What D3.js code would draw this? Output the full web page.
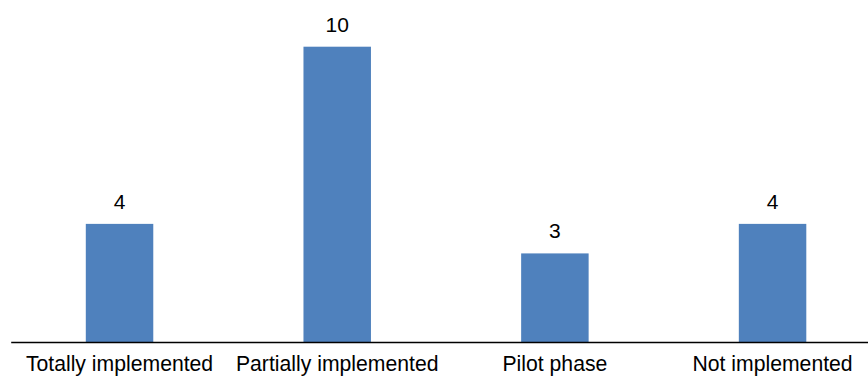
<!DOCTYPE html>
<html>
<head>
<meta charset="utf-8">
<script src="https://cdn.jsdelivr.net/npm/d3@7"></script>
<style>
  html, body { margin: 0; padding: 0; background: #fff; }
  svg { display: block; font-family: "Liberation Sans", Arial, sans-serif; }
</style>
</head>
<body>
<svg id="chart" width="868" height="376"></svg>
<script>
// Implementation status counts
const categories = ["Totally implemented", "Partially implemented", "Pilot phase", "Not implemented"];
const counts = [4, 10, 3, 4];

const svg = d3.select("#chart");
const baseY = 342;
const plotTop = 46.7;

const x = d3.scaleBand()
  .domain(categories)
  .range([10.7, 881.4])
  .paddingInner(0.69)
  .paddingOuter(0.345);

const y = d3.scaleLinear()
  .domain([0, 10])
  .range([baseY, plotTop]);

// Bars
svg.append("g")
  .selectAll("rect")
  .data(categories)
  .join("rect")
  .attr("x", d => x(d))
  .attr("y", (d, i) => y(counts[i]))
  .attr("width", x.bandwidth())
  .attr("height", (d, i) => baseY - y(counts[i]))
  .attr("fill", "#4F81BD");

// Value labels above bars
svg.append("g")
  .selectAll("text")
  .data(categories)
  .join("text")
  .attr("x", d => x(d) + x.bandwidth() / 2)
  .attr("y", (d, i) => y(counts[i]) - 15)
  .attr("text-anchor", "middle")
  .attr("font-size", 21)
  .attr("fill", "#000")
  .text((d, i) => counts[i]);

// Category axis
const axis = d3.axisBottom(x).tickSize(0).tickPadding(14.3);
const gx = svg.append("g")
  .attr("transform", `translate(0,${baseY})`)
  .call(axis);
gx.select(".domain")
  .attr("stroke", "#000")
  .attr("stroke-width", 1.5);
gx.selectAll(".tick text")
  .attr("font-size", 21.2)
  .attr("font-family", "\"Liberation Sans\", Arial, sans-serif")
  .attr("fill", "#000");
</script>
</body>
</html>
